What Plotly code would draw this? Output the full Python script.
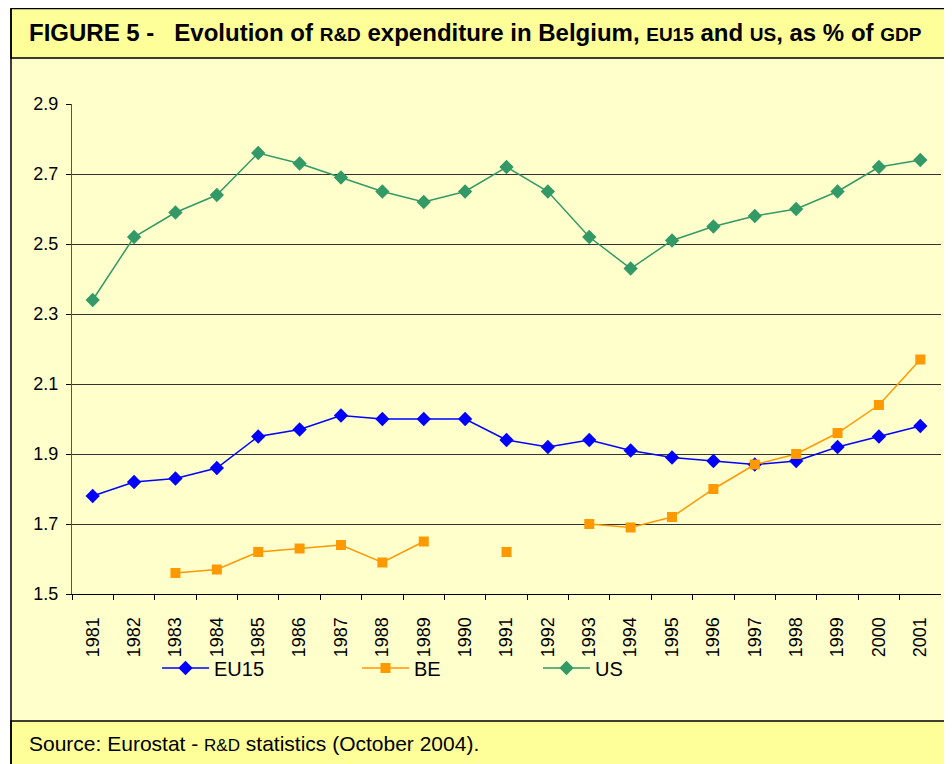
import plotly.graph_objects as go

years = [str(y) for y in range(1981, 2002)]
eu15 = [1.78, 1.82, 1.83, 1.86, 1.95, 1.97, 2.01, 2.00, 2.00, 2.00, 1.94,
        1.92, 1.94, 1.91, 1.89, 1.88, 1.87, 1.88, 1.92, 1.95, 1.98]
be = [None, None, 1.56, 1.57, 1.62, 1.63, 1.64, 1.59, 1.65, None, 1.62,
      None, 1.70, 1.69, 1.72, 1.80, 1.87, 1.90, 1.96, 2.04, 2.17]
us = [2.34, 2.52, 2.59, 2.64, 2.76, 2.73, 2.69, 2.65, 2.62, 2.65, 2.72,
      2.65, 2.52, 2.43, 2.51, 2.55, 2.58, 2.60, 2.65, 2.72, 2.74]

FONT = "Liberation Sans, Arial, sans-serif"
# the page body has an 8px margin, so size the figure to end at the window edge
W, H = 944, 756
OFF = 8


def px(x):
    return (x - OFF) / W


def py(y):
    return 1 - (y - OFF) / H


fig = go.Figure()
fig.add_trace(go.Scatter(x=years, y=eu15, name="EU15", mode="lines+markers", legend="legend",
                         line=dict(color="#0000FF", width=1.5),
                         marker=dict(symbol="diamond", size=11, color="#0000FF")))
fig.add_trace(go.Scatter(x=years, y=be, name="BE", mode="lines+markers", legend="legend2",
                         line=dict(color="#FF9900", width=1.5),
                         marker=dict(symbol="square", size=10, color="#FF9900")))
fig.add_trace(go.Scatter(x=years, y=us, name="US", mode="lines+markers", legend="legend3",
                         line=dict(color="#339966", width=1.5),
                         marker=dict(symbol="diamond", size=11, color="#339966")))

# background bands and frame
fig.add_shape(type="rect", xref="paper", yref="paper", x0=px(11), x1=1.01, y0=-0.01, y1=py(8.5),
              fillcolor="#FFFFCC", line=dict(width=0), layer="below")
fig.add_shape(type="rect", xref="paper", yref="paper", x0=px(11), x1=1.01, y0=py(58), y1=py(8.5),
              fillcolor="#FFFF99", line=dict(color="black", width=1.5), layer="below")
fig.add_shape(type="rect", xref="paper", yref="paper", x0=px(11), x1=1.01, y0=-0.01, y1=py(721),
              fillcolor="#FFFF99", line=dict(color="black", width=1.5), layer="below")
fig.add_shape(type="line", xref="paper", yref="paper", x0=px(11), x1=px(11), y0=-0.01, y1=py(8.5),
              line=dict(color="black", width=1.5))

fig.add_annotation(xref="paper", yref="paper", x=px(27), y=py(32), xanchor="left", yanchor="middle",
                   showarrow=False, font=dict(family=FONT, size=24, color="black"),
                   text="<b>FIGURE 5 -   Evolution of <span style='font-size:19px'>R&amp;D</span> "
                        "expenditure in Belgium, <span style='font-size:19px'>EU15</span> and "
                        "<span style='font-size:19px'>US</span>, as % of "
                        "<span style='font-size:19px'>GDP</span></b>")
fig.add_annotation(xref="paper", yref="paper", x=px(27), y=py(743), xanchor="left", yanchor="middle",
                   showarrow=False, font=dict(family=FONT, size=21, color="black"),
                   text="Source: Eurostat - <span style='font-size:17px'>R&amp;D</span> "
                        "statistics (October 2004).")

leg = dict(orientation="h", y=py(668), xanchor="left", yanchor="middle",
           bgcolor="rgba(0,0,0,0)", font=dict(size=20), itemwidth=47)

fig.update_layout(
    width=W, height=H,
    margin=dict(l=0, r=0, t=0, b=0, autoexpand=False),
    paper_bgcolor="white",
    plot_bgcolor="#FFFFCC",
    font=dict(family=FONT, size=18, color="black"),
    showlegend=True,
    legend=dict(leg, x=px(157)),
    legend2=dict(leg, x=px(357)),
    legend3=dict(leg, x=px(538)),
    xaxis=dict(domain=[px(72), px(941)], type="category", range=[-0.5, 20.5], tickangle=-90,
               automargin=False, showline=True, linecolor="black", linewidth=1,
               ticks="outside", tickson="boundaries", ticklen=5, tickcolor="black",
               ticklabelstandoff=15, showgrid=False, fixedrange=True),
    yaxis=dict(domain=[py(594), py(104)], range=[1.5, 2.9], dtick=0.2, tick0=1.5,
               tickformat=".1f", automargin=False, showline=True, linecolor="#555", linewidth=1,
               ticks="outside", ticklen=5, tickcolor="black", ticklabelstandoff=4,
               showgrid=True, gridcolor="#333", gridwidth=1, zeroline=False),
)

fig.write_html("out.html")
